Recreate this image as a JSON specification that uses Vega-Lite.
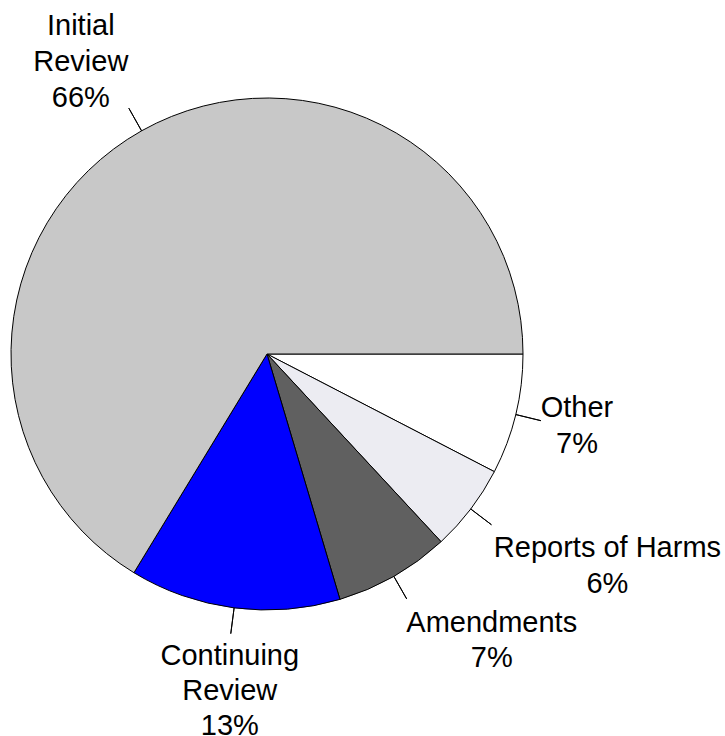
{
  "$schema": "https://vega.github.io/schema/vega-lite/v6.json",
  "width": 534,
  "height": 708,
  "autosize": {"type": "none"},
  "padding": {"left": 0, "top": 0, "right": 191, "bottom": 28},
  "background": "white",
  "view": {"stroke": null},
  "data": {
    "values": [
      {"category": "Other", "value": 7.6, "ord": 1, "label": "Other\n7%"},
      {"category": "Reports of Harms", "value": 5.5, "ord": 2, "label": "Reports of Harms\n6%"},
      {"category": "Amendments", "value": 7.3, "ord": 3, "label": "Amendments\n7%"},
      {"category": "Continuing Review", "value": 13.3, "ord": 4, "label": "Continuing\nReview\n13%"},
      {"category": "Initial Review", "value": 66.3, "ord": 5, "label": "Initial\nReview\n66%"}
    ]
  },
  "encoding": {
    "theta": {"field": "value", "type": "quantitative", "stack": true, "scale": {"range": [1.5707963, 7.8539816]}},
    "order": {"field": "ord", "type": "quantitative", "sort": "ascending"}
  },
  "layer": [
    {
      "mark": {"type": "arc", "radius": 256, "stroke": "black", "strokeWidth": 1},
      "encoding": {
        "color": {
          "field": "category",
          "type": "nominal",
          "scale": {
            "domain": ["Initial Review", "Continuing Review", "Amendments", "Reports of Harms", "Other"],
            "range": ["#c8c8c8", "#0000ff", "#606060", "#ececf2", "#ffffff"]
          },
          "legend": null
        }
      }
    },
    {
      "transform": [{"stack": "value", "groupby": [], "sort": [{"field": "ord", "order": "ascending"}], "as": ["v0", "v1"]}],
      "mark": {"type": "arc", "radius": 282, "radius2": 256, "thetaOffset": 0.23876, "theta2Offset": -0.23876, "fillOpacity": 0, "stroke": "black", "strokeWidth": 1},
      "encoding": {
        "theta": {"field": "v0", "type": "quantitative", "stack": null, "scale": {"range": [1.5707963, 7.8539816]}},
        "theta2": {"field": "v1"},
        "strokeOpacity": {"condition": {"test": "datum.category === 'Other'", "value": 1}, "value": 0}
      }
    },
    {
      "transform": [{"stack": "value", "groupby": [], "sort": [{"field": "ord", "order": "ascending"}], "as": ["v0", "v1"]}],
      "mark": {"type": "arc", "radius": 282, "radius2": 256, "thetaOffset": 0.17279, "theta2Offset": -0.17279, "fillOpacity": 0, "stroke": "black", "strokeWidth": 1},
      "encoding": {
        "theta": {"field": "v0", "type": "quantitative", "stack": null, "scale": {"range": [1.5707963, 7.8539816]}},
        "theta2": {"field": "v1"},
        "strokeOpacity": {"condition": {"test": "datum.category === 'Reports of Harms'", "value": 1}, "value": 0}
      }
    },
    {
      "transform": [{"stack": "value", "groupby": [], "sort": [{"field": "ord", "order": "ascending"}], "as": ["v0", "v1"]}],
      "mark": {"type": "arc", "radius": 282, "radius2": 256, "thetaOffset": 0.22934, "theta2Offset": -0.22934, "fillOpacity": 0, "stroke": "black", "strokeWidth": 1},
      "encoding": {
        "theta": {"field": "v0", "type": "quantitative", "stack": null, "scale": {"range": [1.5707963, 7.8539816]}},
        "theta2": {"field": "v1"},
        "strokeOpacity": {"condition": {"test": "datum.category === 'Amendments'", "value": 1}, "value": 0}
      }
    },
    {
      "transform": [{"stack": "value", "groupby": [], "sort": [{"field": "ord", "order": "ascending"}], "as": ["v0", "v1"]}],
      "mark": {"type": "arc", "radius": 282, "radius2": 256, "thetaOffset": 0.41783, "theta2Offset": -0.41783, "fillOpacity": 0, "stroke": "black", "strokeWidth": 1},
      "encoding": {
        "theta": {"field": "v0", "type": "quantitative", "stack": null, "scale": {"range": [1.5707963, 7.8539816]}},
        "theta2": {"field": "v1"},
        "strokeOpacity": {"condition": {"test": "datum.category === 'Continuing Review'", "value": 1}, "value": 0}
      }
    },
    {
      "transform": [{"stack": "value", "groupby": [], "sort": [{"field": "ord", "order": "ascending"}], "as": ["v0", "v1"]}],
      "mark": {"type": "arc", "radius": 282, "radius2": 256, "thetaOffset": 2.08287, "theta2Offset": -2.08287, "fillOpacity": 0, "stroke": "black", "strokeWidth": 1},
      "encoding": {
        "theta": {"field": "v0", "type": "quantitative", "stack": null, "scale": {"range": [1.5707963, 7.8539816]}},
        "theta2": {"field": "v1"},
        "strokeOpacity": {"condition": {"test": "datum.category === 'Initial Review'", "value": 1}, "value": 0}
      }
    },
    {
      "mark": {"type": "text", "radius": 282, "dx": 36, "dy": -4, "align": "center", "baseline": "alphabetic", "font": "Liberation Sans", "fontSize": 29, "lineHeight": 36, "lineBreak": "\n", "fill": "black"},
      "encoding": {"text": {"condition": {"test": "datum.category === 'Other'", "field": "label", "type": "nominal"}, "value": ""}}
    },
    {
      "mark": {"type": "text", "radius": 282, "dx": 116, "dy": 32, "align": "center", "baseline": "alphabetic", "font": "Liberation Sans", "fontSize": 29, "lineHeight": 36, "lineBreak": "\n", "fill": "black"},
      "encoding": {"text": {"condition": {"test": "datum.category === 'Reports of Harms'", "field": "label", "type": "nominal"}, "value": ""}}
    },
    {
      "mark": {"type": "text", "radius": 282, "dx": 85, "dy": 33, "align": "center", "baseline": "alphabetic", "font": "Liberation Sans", "fontSize": 29, "lineHeight": 35, "lineBreak": "\n", "fill": "black"},
      "encoding": {"text": {"condition": {"test": "datum.category === 'Amendments'", "field": "label", "type": "nominal"}, "value": ""}}
    },
    {
      "mark": {"type": "text", "radius": 282, "dx": -1, "dy": 31, "align": "center", "baseline": "alphabetic", "font": "Liberation Sans", "fontSize": 29, "lineHeight": 35, "lineBreak": "\n", "fill": "black"},
      "encoding": {"text": {"condition": {"test": "datum.category === 'Continuing Review'", "field": "label", "type": "nominal"}, "value": ""}}
    },
    {
      "mark": {"type": "text", "radius": 282, "dx": -48, "dy": -73, "align": "center", "baseline": "alphabetic", "font": "Liberation Sans", "fontSize": 29, "lineHeight": 36, "lineBreak": "\n", "fill": "black"},
      "encoding": {"text": {"condition": {"test": "datum.category === 'Initial Review'", "field": "label", "type": "nominal"}, "value": ""}}
    }
  ]
}
